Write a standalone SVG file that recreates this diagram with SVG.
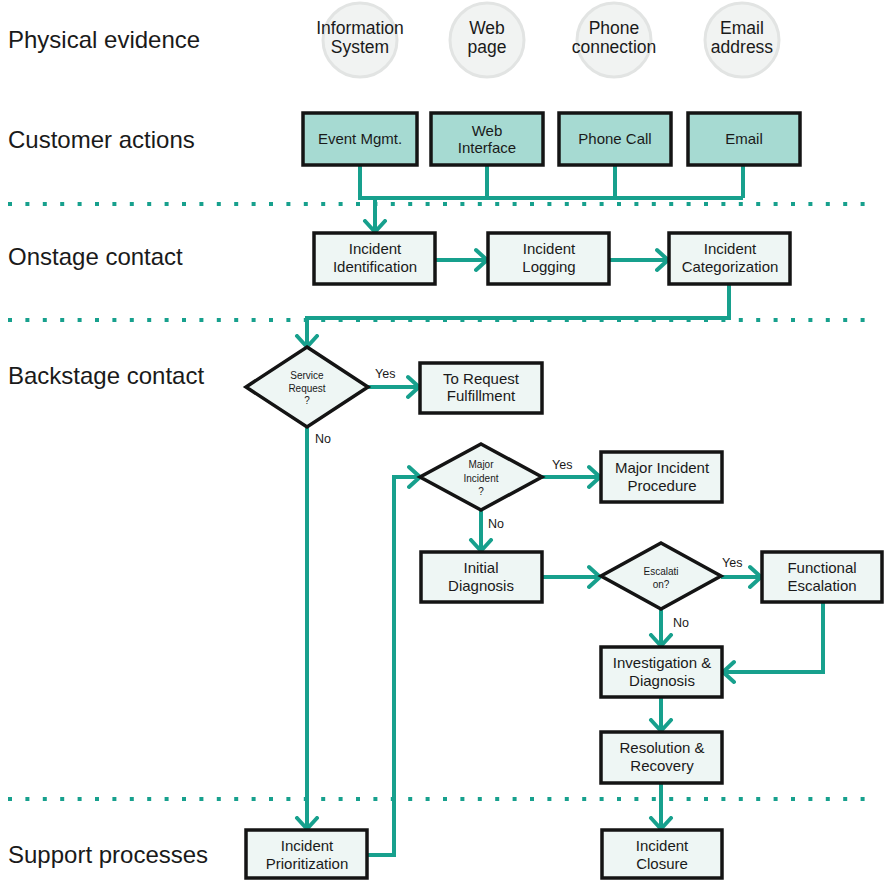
<svg xmlns="http://www.w3.org/2000/svg" width="884" height="881" viewBox="0 0 884 881">
<defs>
<style>
.lane{font-family:"Liberation Sans",Arial,sans-serif;font-size:24px;fill:#1a1a1a}
.ev{fill:#f1f3f2;stroke:#e2e4e3;stroke-width:3}
.evt{font-family:"Liberation Sans",Arial,sans-serif;font-size:17.5px;fill:#1a1a1a;text-anchor:middle}
.ca{fill:#a6dad2;stroke:#141414;stroke-width:3.5}
.bx{fill:#eef6f4;stroke:#141414;stroke-width:3.5}
.t{font-family:"Liberation Sans",Arial,sans-serif;font-size:15px;fill:#1a1a1a;text-anchor:middle}
.dt{font-family:"Liberation Sans",Arial,sans-serif;font-size:10px;fill:#1a1a1a;text-anchor:middle}
.lb{font-family:"Liberation Sans",Arial,sans-serif;font-size:12.5px;fill:#1a1a1a}
.dots{stroke:#17a08d;stroke-width:4;stroke-dasharray:4 13.4;fill:none}
.c{fill:none;stroke:#17a08d;stroke-width:4;stroke-linejoin:miter}
.ca2{marker-end:url(#ah)}
</style>
<marker id="ah" markerUnits="userSpaceOnUse" markerWidth="26" markerHeight="26" refX="13" refY="12" orient="auto" viewBox="0 0 26 24">
<path d="M2,2 L13,12 L2,22" fill="none" stroke="#17a08d" stroke-width="4" stroke-linecap="round" stroke-linejoin="round"/>
</marker>
</defs>
<rect width="884" height="881" fill="#ffffff"/>

<g id="lanes">
<text class="lane" x="8" y="48">Physical evidence</text>
<text class="lane" x="8" y="148">Customer actions</text>
<text class="lane" x="8" y="265">Onstage contact</text>
<text class="lane" x="8" y="384">Backstage contact</text>
<text class="lane" x="8" y="863">Support processes</text>
<line class="dots" x1="8" y1="204" x2="876" y2="204"/>
<line class="dots" x1="8" y1="320" x2="876" y2="320"/>
<line class="dots" x1="8" y1="799" x2="876" y2="799"/>
</g>

<g id="ev-info"><circle class="ev" cx="360" cy="40" r="37"/><text class="evt" x="360" y="34">Information</text><text class="evt" x="360" y="53">System</text></g>
<g id="ev-web"><circle class="ev" cx="487" cy="40" r="37"/><text class="evt" x="487" y="34">Web</text><text class="evt" x="487" y="53">page</text></g>
<g id="ev-phone"><circle class="ev" cx="614" cy="40" r="37"/><text class="evt" x="614" y="34">Phone</text><text class="evt" x="614" y="53">connection</text></g>
<g id="ev-email"><circle class="ev" cx="742" cy="40" r="37"/><text class="evt" x="742" y="34">Email</text><text class="evt" x="742" y="53">address</text></g>

<g id="connectors">
<path class="c" d="M360,165 V198 H743 M487,165 V198 M615,165 V198 M743,165 V198"/>
<path class="c ca2" d="M375,198 V232"/>
<path class="c ca2" d="M436,260 H487"/>
<path class="c ca2" d="M609,260 H668"/>
<path class="c ca2" d="M729,284 V318 H307 V347"/>
<path class="c ca2" d="M368,387 H419"/>
<path class="c ca2" d="M307,427 V829"/>
<path class="c ca2" d="M367,855 H394 V477 H420"/>
<path class="c ca2" d="M542,477 H600"/>
<path class="c ca2" d="M481,510 V551"/>
<path class="c ca2" d="M542,577 H600"/>
<path class="c ca2" d="M721,577 H761"/>
<path class="c ca2" d="M661,609 V646"/>
<path class="c ca2" d="M823,602 V672 H723"/>
<path class="c ca2" d="M661,697 V731"/>
<path class="c ca2" d="M661,783 V829"/>
<text class="lb" x="375" y="378">Yes</text>
<text class="lb" x="315" y="443">No</text>
<text class="lb" x="552" y="469">Yes</text>
<text class="lb" x="488" y="528">No</text>
<text class="lb" x="722" y="567">Yes</text>
<text class="lb" x="673" y="627">No</text>
</g>

<g id="n-event"><rect class="ca" x="303" y="113" width="114" height="52"/><text class="t" x="360" y="144">Event Mgmt.</text></g>
<g id="n-webif"><rect class="ca" x="431" y="113" width="112" height="52"/><text class="t" x="487" y="136">Web</text><text class="t" x="487" y="153">Interface</text></g>
<g id="n-phone"><rect class="ca" x="559" y="113" width="112" height="52"/><text class="t" x="615" y="144">Phone Call</text></g>
<g id="n-email"><rect class="ca" x="688" y="113" width="112" height="52"/><text class="t" x="744" y="144">Email</text></g>

<g id="n-ident"><rect class="bx" x="314" y="233" width="121" height="51"/><text class="t" x="375" y="254">Incident</text><text class="t" x="375" y="272">Identification</text></g>
<g id="n-log"><rect class="bx" x="488" y="233" width="121" height="51"/><text class="t" x="549" y="254">Incident</text><text class="t" x="549" y="272">Logging</text></g>
<g id="n-cat"><rect class="bx" x="669" y="233" width="121" height="51"/><text class="t" x="730" y="254">Incident</text><text class="t" x="730" y="272">Categorization</text></g>

<g id="d-service"><polygon class="bx" points="307,347 368,387 307,427 246,387"/><text class="dt" x="307" y="379">Service</text><text class="dt" x="307" y="392">Request</text><text class="dt" x="307" y="404">?</text></g>
<g id="n-reqful"><rect class="bx" x="420" y="363" width="122" height="50"/><text class="t" x="481" y="384">To Request</text><text class="t" x="481" y="401">Fulfillment</text></g>

<g id="d-major"><polygon class="bx" points="481,444 542,477 481,510 420,477"/><text class="dt" x="481" y="468">Major</text><text class="dt" x="481" y="482">Incident</text><text class="dt" x="481" y="495">?</text></g>
<g id="n-majorproc"><rect class="bx" x="601" y="452" width="121" height="50"/><text class="t" x="662" y="473">Major Incident</text><text class="t" x="662" y="491">Procedure</text></g>

<g id="n-initdiag"><rect class="bx" x="421" y="552" width="121" height="50"/><text class="t" x="481" y="573">Initial</text><text class="t" x="481" y="591">Diagnosis</text></g>
<g id="d-escal"><polygon class="bx" points="661,543 721,576 661,609 601,576"/><text class="dt" x="661" y="575">Escalati</text><text class="dt" x="661" y="588">on?</text></g>
<g id="n-funcesc"><rect class="bx" x="762" y="552" width="120" height="50"/><text class="t" x="822" y="573">Functional</text><text class="t" x="822" y="591">Escalation</text></g>

<g id="n-invest"><rect class="bx" x="601" y="647" width="121" height="50"/><text class="t" x="662" y="668">Investigation &amp;</text><text class="t" x="662" y="686">Diagnosis</text></g>
<g id="n-resol"><rect class="bx" x="601" y="732" width="121" height="51"/><text class="t" x="662" y="753">Resolution &amp;</text><text class="t" x="662" y="771">Recovery</text></g>

<g id="n-prio"><rect class="bx" x="246" y="830" width="121" height="48"/><text class="t" x="307" y="851">Incident</text><text class="t" x="307" y="869">Prioritization</text></g>
<g id="n-closure"><rect class="bx" x="602" y="830" width="120" height="48"/><text class="t" x="662" y="851">Incident</text><text class="t" x="662" y="869">Closure</text></g>
</svg>
